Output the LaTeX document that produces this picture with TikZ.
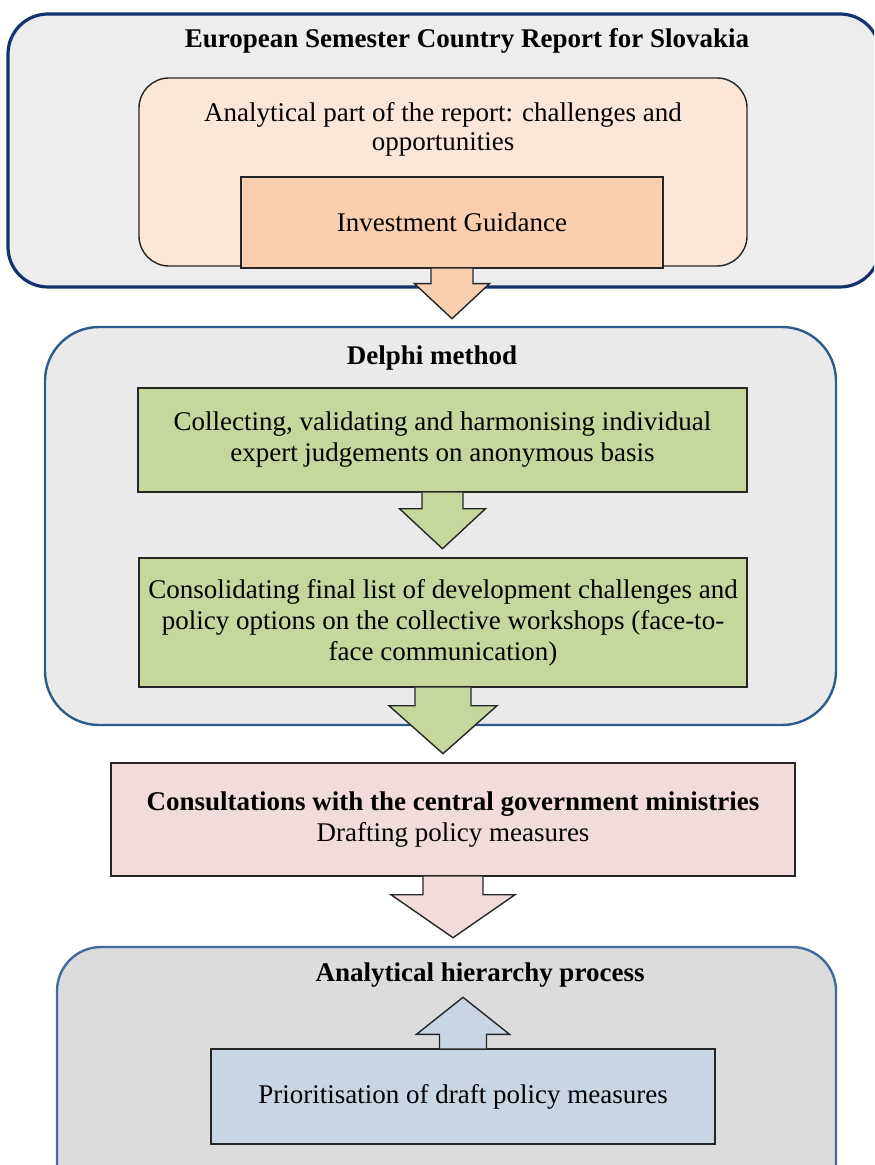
\documentclass[tikz,border=0pt]{standalone}
\usepackage{fontspec}
\setmainfont{Liberation Serif}
\usepackage{xcolor}
\definecolor{bgreport}{HTML}{EDEDED}
\definecolor{bgdelphi}{HTML}{EAEAEA}
\definecolor{bgahp}{HTML}{DCDCDC}
\definecolor{navyline}{HTML}{14336E}
\definecolor{blueline}{HTML}{2F5B8C}
\definecolor{ahpline}{HTML}{44699C}
\definecolor{peachlight}{HTML}{FCE6D8}
\definecolor{peach}{HTML}{F9CFAF}
\definecolor{olive}{HTML}{C5D79D}
\definecolor{rose}{HTML}{F2DCDB}
\definecolor{steel}{HTML}{C8D5E3}
\usepackage{tikz}
\usetikzlibrary{calc,positioning}
% block arrow: anchor, shaft half width, head half width, shaft length, tip length, fill
\newcommand{\flowarrow}[6]{%
  \draw[flow, fill=#6] ($(#1)+(-#2,0)$) -- ($(#1)+(-#2,#4)$) -- ($(#1)+(-#3,#4)$)
    -- ($(#1)+(0,#5)$) -- ($(#1)+(#3,#4)$) -- ($(#1)+(#2,#4)$) -- ($(#1)+(#2,0)$);}

\begin{document}
\begin{tikzpicture}[x=1pt, y=-1pt,
    every node/.style={font=\fontsize{13.5}{15.5}\selectfont, text=black},
    stage/.style={rectangle, rounded corners=#1, inner sep=0pt},
    title/.style={font=\fontsize{13.5}{15.5}\selectfont\bfseries},
    box/.style={rectangle, draw=black!85, line width=0.7pt, align=center, inner sep=2pt},
    flow/.style={draw=black!85, line width=0.7pt, line join=miter}
  ]
    \useasboundingbox (0,0) rectangle (437,582.5);
    \clip (0,0) rectangle (437,582.5);

    % European Semester
    \node[stage=20pt, draw=navyline, fill=bgreport, line width=1.6pt, minimum width=436pt, minimum height=136.5pt] (report) at (222,75.25) {};
    \node[title] (reporttitle) at (233.5,20.5) {European Semester Country Report for Slovakia};
    \node[stage=15pt, draw=black!85, fill=peachlight, line width=0.7pt, minimum width=304pt, minimum height=94pt] (analytic) at (221.5,86) {};
    \node[align=center, font=\fontsize{13.5}{14.5}\selectfont] (analytictxt) at (221.5,64.5) {Analytical part of the report: challenges and\\opportunities};
    \node[box, fill=peach, minimum width=211pt, minimum height=45.5pt] (guidance) at (226,111.25) {Investment Guidance};
    \flowarrow{guidance.south}{10.5}{18.75}{7.5}{25}{peach}

    % Delphi
    \node[stage=27pt, draw=blueline, fill=bgdelphi, line width=1.2pt, minimum width=395.5pt, minimum height=199pt] (delphi) at (220.25,263) {};
    \node[title] (delphititle) at (216,179) {Delphi method};
    \node[box, fill=olive, minimum width=304.5pt, minimum height=52pt] (collect) at (221.25,220) {Collecting, validating and harmonising individual\\expert judgements on anonymous basis};
    \flowarrow{collect.south}{10.25}{21.5}{8}{28}{olive}
    \node[box, fill=olive, minimum width=304pt, minimum height=64.5pt] (consolidate) at (221.5,311.25) {Consolidating final list of development challenges and\\policy options on the collective workshops (face-to-\\face communication)};
    \flowarrow{consolidate.south}{14}{27}{9}{33}{olive}

    % consultations
    \node[box, fill=rose, minimum width=342pt, minimum height=56.5pt] (consult) at (226.5,409.75) {\textbf{Consultations with the central government ministries}\\Drafting policy measures};
    \flowarrow{consult.south}{15}{31}{9}{30.5}{rose}

    % AHP
    \node[stage=22pt, draw=ahpline, fill=bgahp, line width=1.2pt, minimum width=389.5pt, minimum height=156.5pt] (ahp) at (223.25,551.75) {};
    \node[title] (ahptitle) at (240,487.5) {Analytical hierarchy process};
    \node[box, fill=steel, minimum width=252pt, minimum height=47.5pt] (prio) at (231.5,548.25) {Prioritisation of draft policy measures};
    \flowarrow{prio.north}{11.75}{23.25}{-7}{-25.5}{steel}
  \end{tikzpicture}
\end{document}
